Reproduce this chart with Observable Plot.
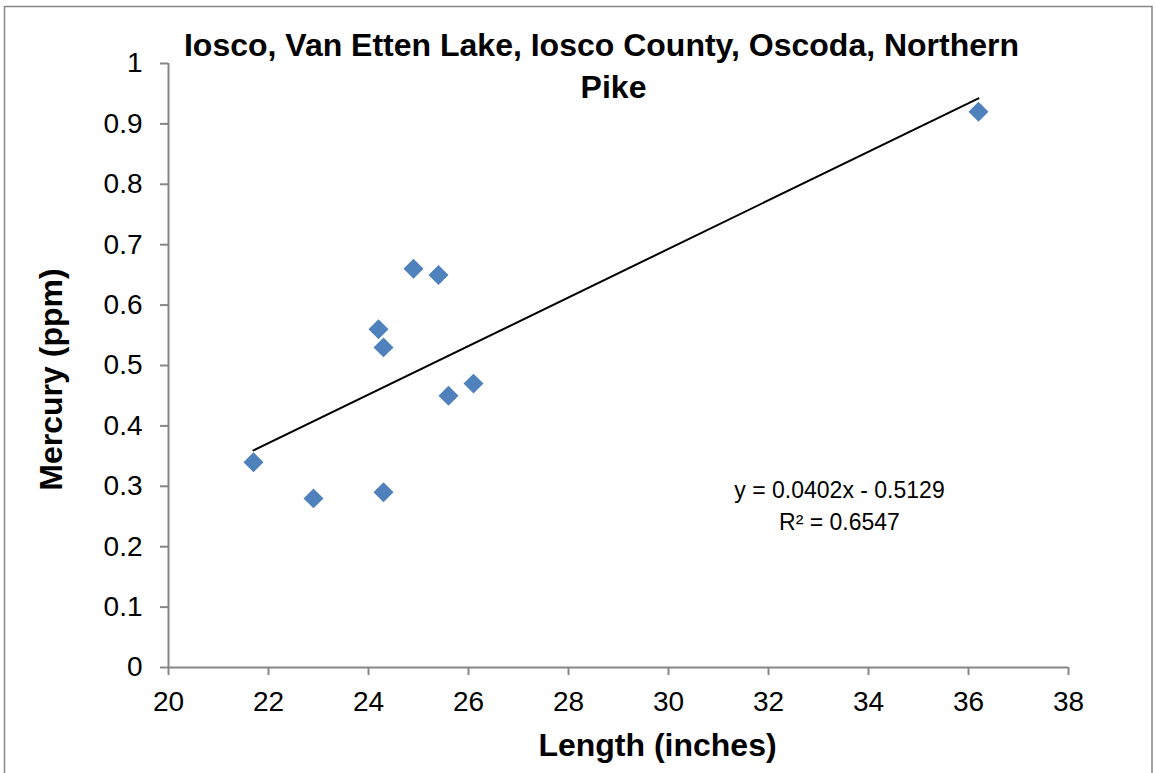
<!DOCTYPE html>
<html>
<head>
<meta charset="utf-8">
<script src="https://cdn.jsdelivr.net/npm/d3@7"></script>
<script src="https://cdn.jsdelivr.net/npm/@observablehq/plot@0.6"></script>
<style>
  html, body { margin: 0; padding: 0; background: #fff; }
  #chart svg { display: block; }
</style>
</head>
<body>
<div id="chart"></div>
<script>
// ---- data ----
const lengthInches = [21.7, 22.9, 24.2, 24.3, 24.3, 24.9, 25.4, 25.6, 26.1, 36.2];
const mercuryPpm   = [0.34, 0.28, 0.56, 0.53, 0.29, 0.66, 0.65, 0.45, 0.47, 0.92];

const trendSlope = 0.0402;
const trendIntercept = -0.5129;
const trendXRange = [21.7, 36.2];

const xTicks = [20, 22, 24, 26, 28, 30, 32, 34, 36, 38];
const xTickLabels = ["20", "22", "24", "26", "28", "30", "32", "34", "36", "38"];
const yTicks = [0, 0.1, 0.2, 0.3, 0.4, 0.5, 0.6, 0.7, 0.8, 0.9, 1];
const yTickLabels = ["0", "0.1", "0.2", "0.3", "0.4", "0.5", "0.6", "0.7", "0.8", "0.9", "1"];

const titleLine1 = "Iosco, Van Etten Lake, Iosco County, Oscoda, Northern";
const titleLine2 = "Pike";
const xTitle = "Length (inches)";
const yTitle = "Mercury (ppm)";
const eqLine1 = "y = 0.0402x - 0.5129";
const eqLine2 = "R² = 0.6547";

// ---- derived tables ----
const points = lengthInches.map((x, i) => ({x, y: mercuryPpm[i]}));
const trend = trendXRange.map(x => ({x, y: trendSlope * x + trendIntercept}));

const axisColor = "#868686";
const font = "Liberation Sans, Arial, sans-serif";

const chart = Plot.plot({
  width: 1156,
  height: 773,
  marginLeft: 168,
  marginRight: 88,
  marginTop: 63,
  marginBottom: 106,
  style: {fontFamily: font, color: "#000", background: "#fff", overflow: "visible"},
  x: {domain: [20, 38]},
  y: {domain: [0, 1]},
  marks: [
    Plot.ruleX([20], {stroke: axisColor, strokeWidth: 2}),
    Plot.ruleY([0], {stroke: axisColor, strokeWidth: 2}),
    Plot.axisX({ticks: xTicks, tickFormat: (d, i) => xTickLabels[i], tickSize: 8, tickPadding: 16,
                stroke: axisColor, strokeWidth: 2, fontSize: 28, fill: "#000", label: null}),
    Plot.axisY({ticks: yTicks, tickFormat: (d, i) => yTickLabels[i], tickSize: 8, tickPadding: 18,
                stroke: axisColor, strokeWidth: 2, fontSize: 28, fill: "#000", label: null}),
    Plot.line(trend, {x: "x", y: "y", stroke: "#000", strokeWidth: 2}),
    Plot.dot(points, {x: "x", y: "y", symbol: "diamond2", r: 9, fill: "#4F81BD", stroke: "none"}),
    Plot.text([titleLine1], {frameAnchor: "top", dx: -17, dy: -8, lineAnchor: "bottom",
                             textAnchor: "middle", fontSize: 32, fontWeight: "bold"}),
    Plot.text([titleLine2], {frameAnchor: "top", dx: -5, dy: 34, lineAnchor: "bottom",
                             textAnchor: "middle", fontSize: 32, fontWeight: "bold"}),
    Plot.text([xTitle], {frameAnchor: "bottom", dx: 39, dy: 88, lineAnchor: "bottom",
                         textAnchor: "middle", fontSize: 32, fontWeight: "bold"}),
    Plot.text([yTitle], {frameAnchor: "left", dx: -107, dy: 14, rotate: -90, lineAnchor: "bottom",
                         textAnchor: "middle", fontSize: 32, fontWeight: "bold"}),
    Plot.text([eqLine1], {frameAnchor: "top-left", dx: 671, dy: 434, lineAnchor: "bottom",
                          textAnchor: "middle", fontSize: 23}),
    Plot.text([eqLine2], {frameAnchor: "top-left", dx: 671, dy: 466, lineAnchor: "bottom",
                          textAnchor: "middle", fontSize: 23})
  ]
});

// outer chart border
d3.select(chart).insert("rect", ":first-child")
  .attr("x", 4.5).attr("y", 6.5).attr("width", 1147.5).attr("height", 800)
  .attr("fill", "none").attr("stroke", axisColor).attr("stroke-width", 1.5);

document.getElementById("chart").appendChild(chart);
</script>
</body>
</html>
